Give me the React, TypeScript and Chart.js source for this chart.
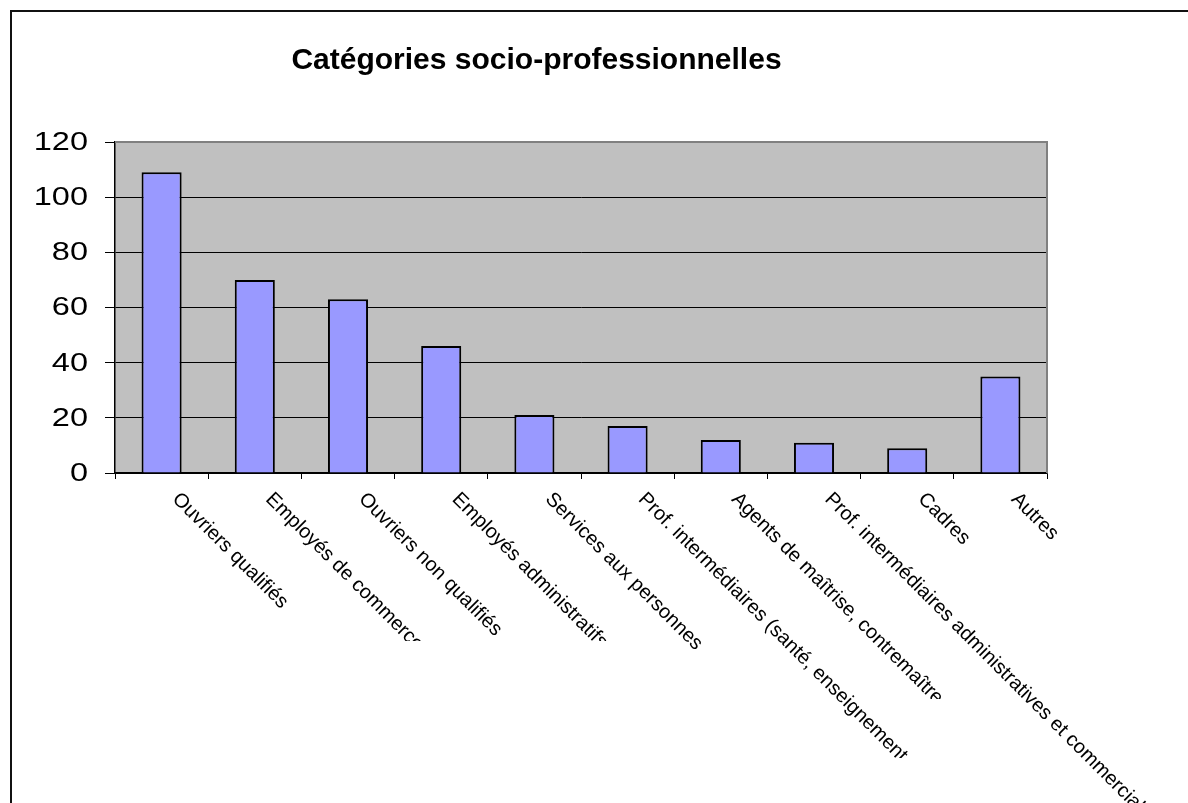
import React, { useEffect, useRef } from "react";
import { Chart, registerables } from "chart.js";

Chart.register(...registerables);

const TITLE = "Catégories socio-professionnelles";
const categories = [
  "Ouvriers qualifiés",
  "Employés de commerce",
  "Ouvriers non qualifiés",
  "Employés administratifs",
  "Services aux personnes",
  "Prof. intermédiaires (santé, enseignement...)",
  "Agents de maîtrise, contremaîtres",
  "Prof. intermédiaires administratives et commerciales",
  "Cadres",
  "Autres",
];
const values = [109, 70, 63, 46, 21, 17, 12, 11, 9, 35];
const yMin = 0;
const yMax = 120;
const yStep = 20;

// layout-only: horizontal clip line for truncated category labels (null = no clip)
const LABEL_CLIP_Y: (number | null)[] = [null, 641, null, 641, null, 758, 699, null, null, null];

const W = 1188;
const H = 803;

const decor = {
  id: "decor",
  beforeDraw(chart: any) {
    const { ctx, chartArea: a } = chart;
    ctx.save();
    ctx.fillStyle = "#ffffff";
    ctx.fillRect(0, 0, W, H);
    ctx.fillStyle = "#C0C0C0";
    ctx.fillRect(a.left, a.top, a.right - a.left, a.bottom - a.top);
    ctx.restore();
  },
  afterDraw(chart: any) {
    const { ctx, chartArea: a } = chart;
    const xs = chart.scales.x;
    const ys = chart.scales.y;
    ctx.save();
    // plot area border (gray top/right)
    ctx.strokeStyle = "#808080";
    ctx.lineWidth = 2;
    ctx.beginPath();
    ctx.moveTo(a.left, a.top);
    ctx.lineTo(a.right, a.top);
    ctx.lineTo(a.right, a.bottom);
    ctx.stroke();
    // outer frame
    ctx.strokeStyle = "#111";
    ctx.lineWidth = 2;
    ctx.strokeRect(11, 11, W + 40, H + 40);
    // title
    ctx.fillStyle = "#000";
    ctx.font = 'bold 30px "Liberation Sans", Arial, sans-serif';
    ctx.textAlign = "center";
    ctx.textBaseline = "alphabetic";
    ctx.fillText(TITLE, 536.5, 69);
    // y labels
    ctx.font = '25px "Liberation Sans", Arial, sans-serif';
    ys.ticks.forEach((t: any) => {
      const y = ys.getPixelForValue(t.value);
      ctx.save();
      ctx.translate(88, y + 1);
      ctx.scale(1.3, 1);
      ctx.textAlign = "right";
      ctx.textBaseline = "middle";
      ctx.fillText(String(t.value), 0, 0);
      ctx.restore();
    });
    // category labels, rotated 45deg clockwise
    ctx.font = '20px "Liberation Sans", Arial, sans-serif';
    categories.forEach((lab, i) => {
      const x = xs.getPixelForValue(i);
      ctx.save();
      const clip = LABEL_CLIP_Y[i];
      if (clip != null) {
        ctx.beginPath();
        ctx.rect(0, 0, W, clip);
        ctx.clip();
      }
      ctx.translate(x + 10, a.bottom + 27);
      ctx.rotate(Math.PI / 4);
      ctx.textAlign = "left";
      ctx.textBaseline = "alphabetic";
      ctx.fillText(lab, 0, 0);
      ctx.restore();
    });
    ctx.restore();
  },
};

export default function App() {
  const ref = useRef<HTMLCanvasElement | null>(null);
  useEffect(() => {
    if (!ref.current) return;
    const chart = new Chart(ref.current, {
      type: "bar",
      data: {
        labels: categories,
        datasets: [
          {
            data: values,
            backgroundColor: "#9999FF",
            borderColor: "#000000",
            borderWidth: 2,
            barPercentage: 0.43,
            categoryPercentage: 1,
          },
        ],
      },
      options: {
        responsive: false,
        animation: false,
        layout: { padding: { left: 0, top: 142, right: W - 1047, bottom: 0 } },
        plugins: {
          legend: { display: false },
          title: { display: false },
          tooltip: { enabled: false },
        },
        scales: {
          x: {
            type: "category",
            offset: true,
            grid: {
              offset: true,
              drawOnChartArea: false,
              drawTicks: true,
              tickLength: 6,
              color: "#000",
              lineWidth: 1,
            },
            border: { display: true, color: "#000", width: 1.5 },
            ticks: { display: false },
            afterFit: (s: any) => {
              s.height = H - 473;
            },
          },
          y: {
            min: yMin,
            max: yMax,
            ticks: { display: false, stepSize: yStep },
            grid: {
              color: (c: any) => (c.tick && c.tick.value === yMax ? "#808080" : "#000"),
              tickColor: "#000",
              lineWidth: 1,
              drawTicks: true,
              tickLength: 10,
            },
            border: { display: true, color: "#000", width: 1.5 },
            afterFit: (s: any) => {
              s.width = 115;
            },
          },
        },
      },
      plugins: [decor],
    });
    return () => chart.destroy();
  }, []);
  return (
    <div style={{ position: "fixed", left: 0, top: 0, width: W, height: H, overflow: "hidden" }}>
      <canvas ref={ref} width={W} height={H} style={{ display: "block", width: W, height: H }} />
    </div>
  );
}
